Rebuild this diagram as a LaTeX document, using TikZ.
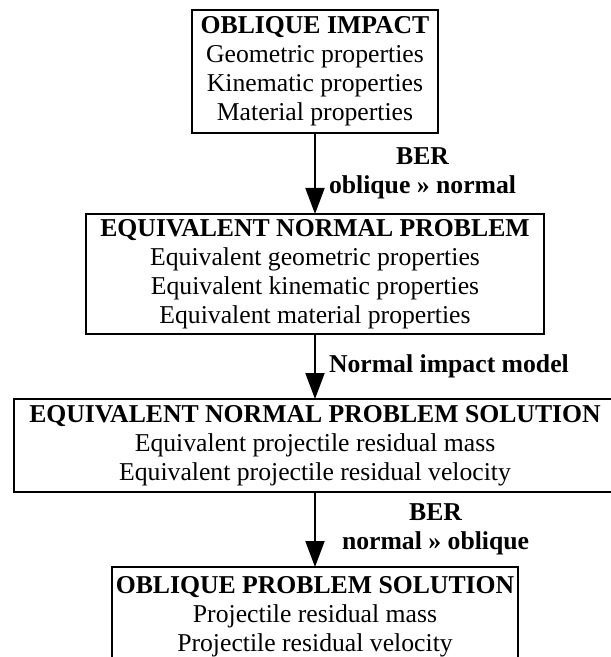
\documentclass[tikz,border=0pt]{standalone}
\usepackage{fontspec}
\setmainfont{Liberation Serif}
\usetikzlibrary{positioning,arrows.meta}

\begin{document}
\begin{tikzpicture}[->,>={Triangle[length=13pt,width=9.5pt]},line width=1pt,
  stage/.style={draw,align=center,inner sep=2pt,outer sep=0pt,font=\fontsize{12.85}{14.5}\selectfont},
  lbl/.style={font=\fontsize{12.85}{14.5}\selectfont\bfseries,align=center,inner sep=0pt}]
   \useasboundingbox (0,0) rectangle (305pt,-328.5pt);
   \node[stage,minimum width=123pt,minimum height=61.5pt] (impact) at (157.5pt,-35.75pt)
     {\textbf{OBLIQUE IMPACT}\\Geometric properties\\Kinematic properties\\Material properties};
   \node[stage,minimum width=229pt,minimum height=60pt] (equiv) [below=40.5pt of impact]
     {\textbf{EQUIVALENT NORMAL PROBLEM}\\Equivalent geometric properties\\Equivalent kinematic properties\\Equivalent material properties};
   \node[stage,minimum width=301pt,minimum height=46.5pt] (equivsol) [below=32.5pt of equiv]
     {\textbf{EQUIVALENT NORMAL PROBLEM SOLUTION}\\Equivalent projectile residual mass\\Equivalent projectile residual velocity};
   \node[stage,minimum width=203pt,minimum height=50pt] (obliquesol) [below=37.5pt of equivsol]
     {\textbf{OBLIQUE PROBLEM SOLUTION}\\Projectile residual mass\\Projectile residual velocity};
    \path[->]
    (impact) edge node[lbl,right=6.5pt] {BER\\oblique » normal} (equiv)
    (equiv) edge node[lbl,right=6.5pt] {Normal impact model} (equivsol)
    (equivsol) edge node[lbl,right=13pt] {BER\\normal » oblique} (obliquesol);
\end{tikzpicture}
\end{document}
